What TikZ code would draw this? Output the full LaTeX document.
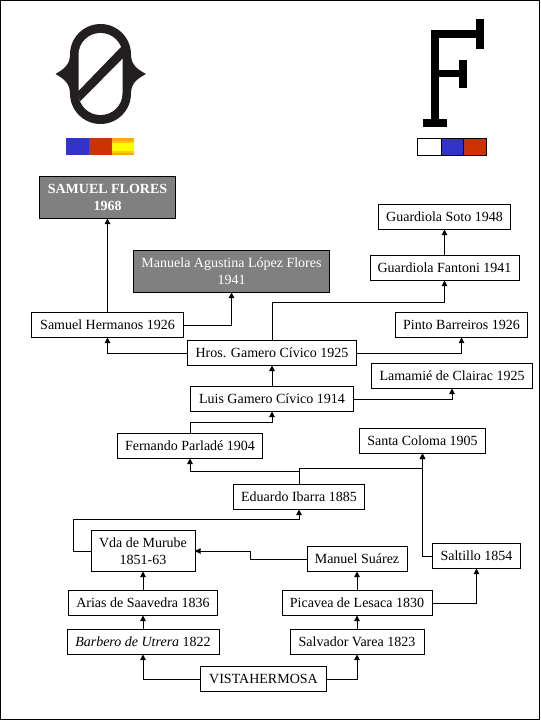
\documentclass[tikz,border=0pt]{standalone}
\usepackage{fontspec}
\setmainfont{Liberation Serif}
\usepackage{xcolor}
\usepackage{tikz}
\usetikzlibrary{arrows.meta}
\definecolor{brandink}{RGB}{35, 31, 32}
\definecolor{flagblue}{RGB}{51, 51, 204}
\definecolor{flagred}{RGB}{204, 51, 0}
\definecolor{flagorange}{RGB}{255, 170, 0}
\definecolor{flagamber}{RGB}{255, 204, 0}
\definecolor{flagyellow}{RGB}{255, 255, 0}
\definecolor{ownerfill}{RGB}{128, 128, 128}
\tikzset{
  farm/.style={draw=black, line width=0.75pt, fill=white, inner sep=0pt, outer sep=0pt,
    minimum height=18.75pt, align=center, font=\fontsize{10.5}{12.6}\selectfont},
  owner/.style={farm, fill=ownerfill, text=white, minimum height=31.5pt},
  link/.style={draw=black, line width=0.75pt, -{Triangle[length=4.2pt, width=4.2pt]}},
  flagcell/.style={draw=black, line width=0.75pt}
}

\begin{document}
\begin{tikzpicture}[x=0.75pt, y=-0.75pt]
  \useasboundingbox (0,0) rectangle (540,720);
  \draw[black, line width=0.75pt] (0.5,0.5) rectangle (539.5,719.5);

  \fill[brandink] (131,54.5) arc (0:-180:30.5)
    .. controls (70,66) and (62,70) .. (55.5,74)
    .. controls (62,78) and (70,82) .. (70,93.5)
    arc (180:0:30.5)
    .. controls (131,82) and (139,78) .. (146,74)
    .. controls (139,70) and (131,66) .. (131,54.5) -- cycle;
  \fill[white] (122.5,55) arc (0:-180:22) -- (78.5,93) arc (180:0:22) -- cycle;
  \fill[brandink] (77.5,92) -- (122,46) -- (125,56) -- (80,101.5) -- cycle;

  \fill[flagblue] (66,138) rectangle (89,155);
  \fill[flagred] (89,138) rectangle (112,155);
  \fill[flagorange] (112,138) rectangle (134,155);
  \fill[flagamber] (112,141) rectangle (134,153);
  \fill[flagyellow] (112,143) rectangle (134,151);

  \fill[black] (430.5,30) rectangle (439,122);
  \fill[black] (430.5,30) rectangle (476,38);
  \fill[black] (476,19.5) rectangle (484,49);
  \fill[black] (439,70) rectangle (459,77.5);
  \fill[black] (459,60) rectangle (466.5,88.5);
  \fill[black] (422.5,119.5) rectangle (447,127.5);

  \draw[flagcell, fill=white] (417.5,138.5) rectangle (441,155.5);
  \draw[flagcell, fill=flagblue] (441,138.5) rectangle (463,155.5);
  \draw[flagcell, fill=flagred] (463,138.5) rectangle (486,155.5);

  \node[owner, minimum width=102pt, font=\fontsize{10.5}{12.6}\selectfont\bfseries] (flores) at (107.5,197.5) {SAMUEL FLORES\\1968};
  \node[owner, minimum width=147pt] (manuela) at (231.5,271.5) {Manuela Agustina López Flores\\1941};
  \node[farm, minimum width=114pt] (samuel) at (107.5,325) {Samuel Hermanos 1926};
  \node[farm, minimum width=126.75pt] (hros) at (272,353) {Hros. Gamero Cívico 1925};
  \node[farm, minimum width=99pt] (soto) at (444.5,217) {Guardiola Soto 1948};
  \node[farm, minimum width=111.75pt] (fantoni) at (444.5,268) {Guardiola Fantoni 1941};
  \node[farm, minimum width=99pt] (pinto) at (461.5,325) {Pinto Barreiros 1926};
  \node[farm, minimum width=120.75pt] (lamamie) at (452,376) {Lamamié de Clairac 1925};
  \node[farm, minimum width=122.25pt] (luis) at (272,399) {Luis Gamero Cívico 1914};
  \node[farm, minimum width=108.75pt] (fernando) at (190,446) {Fernando Parladé 1904};
  \node[farm, minimum width=94.5pt] (santa) at (422.5,441) {Santa Coloma 1905};
  \node[farm, minimum width=98.25pt] (eduardo) at (299,497) {Eduardo Ibarra 1885};
  \node[farm, minimum width=78pt, minimum height=30.75pt] (vda) at (143,551) {Vda de Murube\\1851-63};
  \node[farm, minimum width=75pt] (manuel) at (357,559) {Manuel Suárez};
  \node[farm, minimum width=66pt] (saltillo) at (476.5,556) {Saltillo 1854};
  \node[farm, minimum width=112.5pt] (picavea) at (357,603) {Picavea de Lesaca 1830};
  \node[farm, minimum width=111.75pt] (arias) at (143,603) {Arias de Saavedra 1836};
  \node[farm, minimum width=114pt] (barbero) at (143,642) {\textit{Barbero de Utrera} 1822};
  \node[farm, minimum width=100.5pt] (salvador) at (357,642) {Salvador Varea 1823};
  \node[farm, minimum width=94.5pt] (vista) at (263.5,679) {VISTAHERMOSA};

  \coordinate (hrosup) at (272,302);
  \coordinate (fernup) at (190,422);
  \coordinate (edufork) at (299,471);
  \coordinate (edutop) at (299,468);
  \coordinate (vdaleft) at (73.5,551);
  \coordinate (vdaup) at (73.5,519);
  \coordinate (manbend) at (250.5,559);

  \foreach \from/\to in {samuel/flores, fantoni/soto, luis/hros, arias/vda, barbero/arias,
      picavea/manuel, salvador/picavea}{
    \draw[link] (\from.north) -- (\to.south);
  }
  \draw[link] (samuel.east) -| (manuela.south);
  \draw[link] (hros.west) -| (samuel.south);
  \draw[link] (hros.north) -- (hrosup) -| (fantoni.south);
  \draw[link] (hros.east) -| (pinto.south);
  \draw[link] (luis.east) -| (lamamie.south);
  \draw[link] (fernando.north) -- (fernup) -| (luis.south);
  \draw[link] (edufork) -| (fernando.south);
  \draw[black, line width=0.75pt] (eduardo.north) -- (edutop);
  \draw[link] (edutop) -| (santa.south);
  \draw[link] (saltillo.west) -| (santa.south);
  \draw[link] (vda.west) -- (vdaleft) -- (vdaup) -| (eduardo.south);
  \draw[link] (manuel.west) -- (manbend) |- (vda.east);
  \draw[link] (picavea.east) -| (saltillo.south);
  \draw[link] (vista.west) -| (barbero.south);
  \draw[link] (vista.east) -| (salvador.south);
\end{tikzpicture}
\end{document}
